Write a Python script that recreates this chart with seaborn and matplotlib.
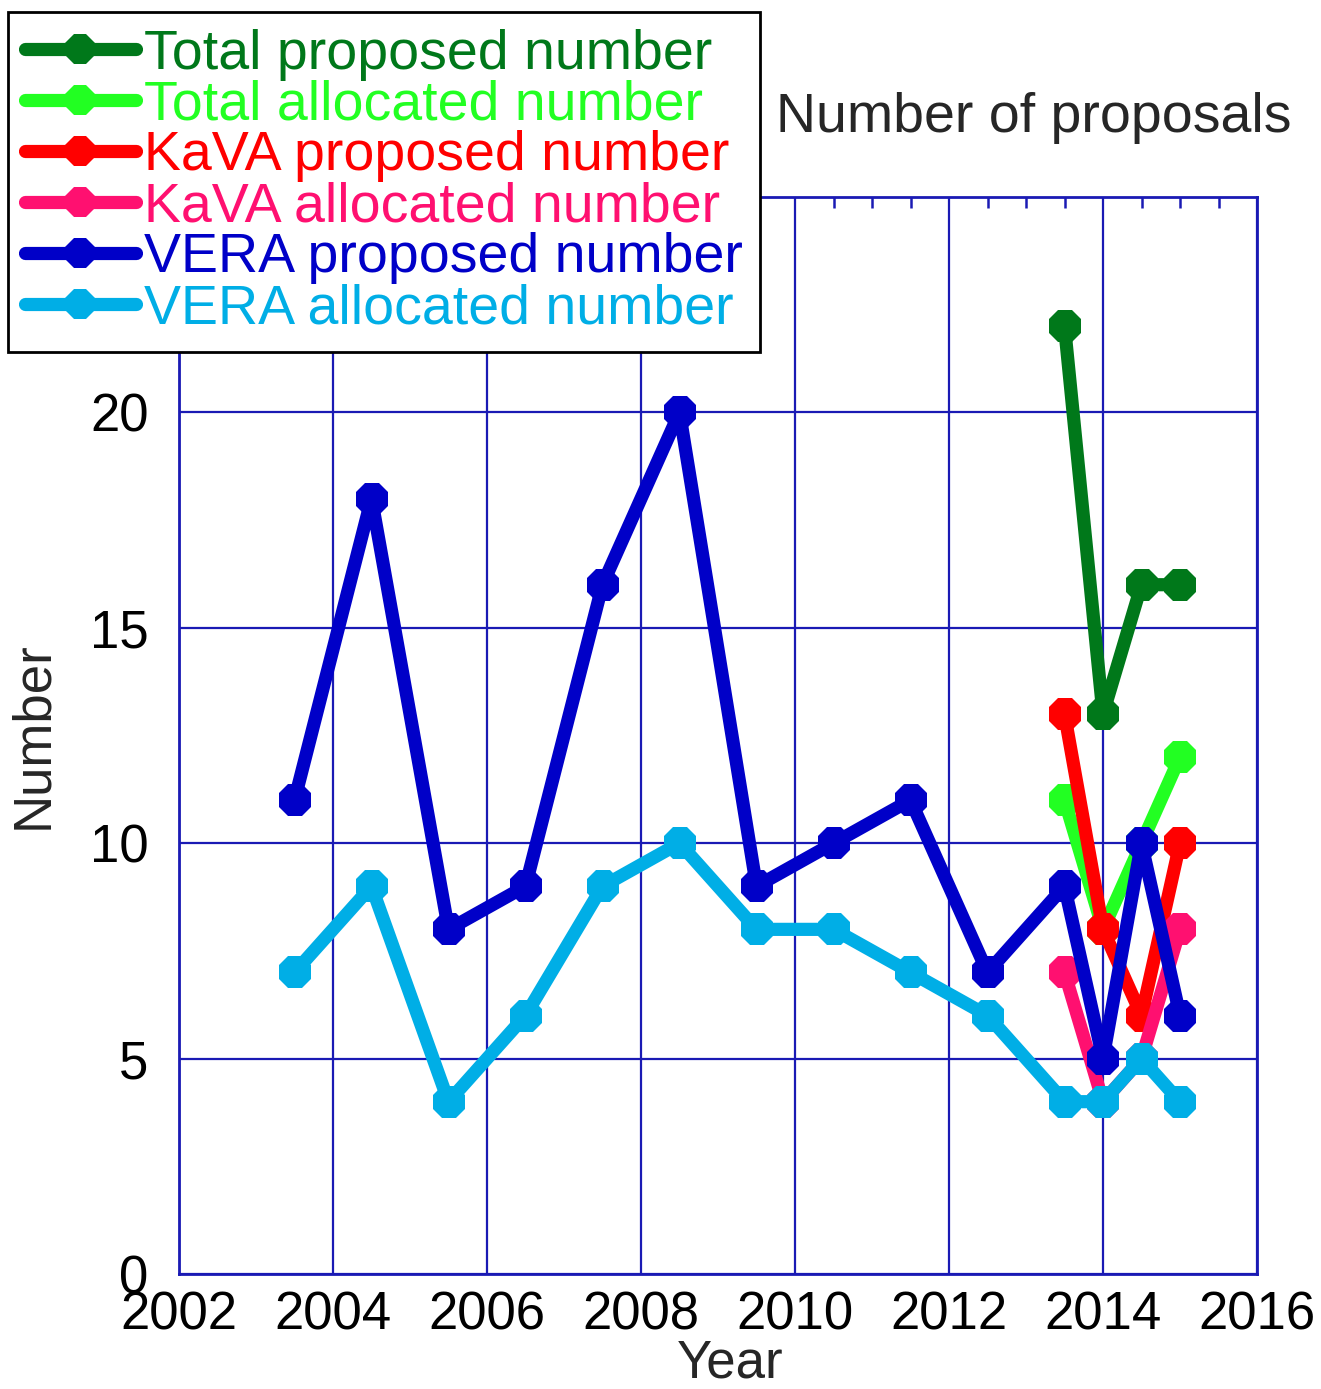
import numpy as np
import pandas as pd
import matplotlib
matplotlib.use("Agg")
import matplotlib.pyplot as plt
import seaborn as sns
from matplotlib.ticker import MultipleLocator
from matplotlib.lines import Line2D

# years of each proposal call
vera_years = [2003.5, 2004.5, 2005.5, 2006.5, 2007.5, 2008.5, 2009.5,
              2010.5, 2011.5, 2012.5, 2013.5, 2014.0, 2014.5, 2015.0]
kava_years = [2013.5, 2014.0, 2014.5, 2015.0]

total_proposed = [22, 13, 16, 16]
total_allocated = [11, 8, 10, 12]
kava_proposed = [13, 8, 6, 10]
kava_allocated = [7, 4, 5, 8]
vera_proposed = [11, 18, 8, 9, 16, 20, 9, 10, 11, 7, 9, 5, 10, 6]
vera_allocated = [7, 9, 4, 6, 9, 10, 8, 8, 7, 6, 4, 4, 5, 4]

labels = ["Total proposed number", "Total allocated number",
          "KaVA proposed number", "KaVA allocated number",
          "VERA proposed number", "VERA allocated number"]
colors = ["#00781a", "#22ff22", "#ff0000", "#ff1070", "#0000c8", "#00aee6"]

series = [(kava_years, total_proposed), (kava_years, total_allocated),
          (kava_years, kava_proposed), (kava_years, kava_allocated),
          (vera_years, vera_proposed), (vera_years, vera_allocated)]

frames = []
for lab, (xs, ys) in zip(labels, series):
    frames.append(pd.DataFrame({"Year": xs, "Number": ys, "series": lab}))
df = pd.concat(frames, ignore_index=True)

sns.set_style("white")
plt.rcParams["font.family"] = ["Liberation Sans", "DejaVu Sans"]

axis_blue = "#1a1ab4"
fig = plt.figure(figsize=(13.21, 13.89), dpi=100)
ax = fig.add_axes([179 / 1321, 1 - 1274 / 1389, (1257 - 179) / 1321, (1274 - 197) / 1389])

sns.lineplot(data=df, x="Year", y="Number", hue="series", hue_order=labels,
             palette=dict(zip(labels, colors)), marker="8", markersize=25,
             markeredgewidth=0, linewidth=9.5, ax=ax, legend=False,
             sort=False, zorder=3)

ax.set_xlim(2002, 2016)
ax.set_ylim(0, 25)
ax.xaxis.set_major_locator(MultipleLocator(2))
ax.xaxis.set_minor_locator(MultipleLocator(0.5))
ax.set_yticks([0, 5, 10, 15, 20])
ax.grid(True, which="major", color=axis_blue, linewidth=1.6)
for sp in ax.spines.values():
    sp.set_color(axis_blue)
    sp.set_linewidth(2)
    sp.set_visible(True)
ax.tick_params(axis="both", which="both", direction="in", colors=axis_blue,
               labelcolor="black", labelsize=38, top=True, right=True)
ax.tick_params(axis="x", which="minor", length=8, width=1.8)
ax.tick_params(axis="x", which="major", length=0, pad=12)
ax.tick_params(axis="y", which="major", length=0, pad=22)
ax.set_xlabel("Year", fontsize=38)
ax.set_ylabel("Number", fontsize=38)
ax.xaxis.set_label_coords(0.511, -0.060)
ax.yaxis.set_label_coords(-0.112, 0.5)

fig.text(1291 / 1321, 1 - 118 / 1389, "Number of proposals", fontsize=40,
         ha="right", va="center")

handles = [Line2D([], [], color=c, linewidth=9.5, marker="8", markersize=24,
                  markeredgewidth=0) for c in colors]
leg = fig.legend(handles, labels, loc="upper left",
                 bbox_to_anchor=(8 / 1321, 1 - 12 / 1389), borderaxespad=0,
                 fontsize=40, labelcolor="linecolor", handlelength=2.0,
                 handletextpad=0.15, labelspacing=-0.02, borderpad=0.3,
                 fancybox=False, framealpha=1, edgecolor="black")
leg.get_frame().set_linewidth(2)

fig.savefig("out.png", dpi=100)
